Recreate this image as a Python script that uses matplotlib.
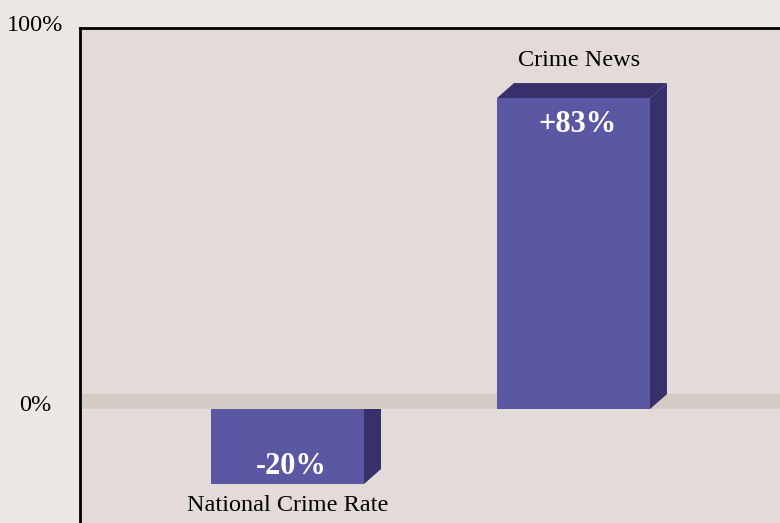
import matplotlib.pyplot as plt
from matplotlib.patches import Polygon, Rectangle
from matplotlib.transforms import blended_transform_factory

# Data
categories = ["National Crime Rate", "Crime News"]
changes = [-20, 83]
value_labels = ["-20%", "+83%"]
tick_values = [0, 100]
tick_labels = ["0%", "100%"]

# Style
fig_bg = "#ece8e5"
plot_bg = "#e3dbd8"
floor_col = "#d4cbc5"
front_col = "#5a57a3"
side_col = "#38306b"
bar_w = 0.535
dx, dy = 0.0594, 4.0   # 3D depth offsets in data units

plt.rcParams["font.family"] = ["Liberation Serif", "DejaVu Serif"]

fig = plt.figure(figsize=(7.8, 5.23), dpi=100, facecolor=fig_bg)
ax = fig.add_axes([80 / 780, 0, 700 / 780, 495 / 523])
ax.set_facecolor(plot_bg)
ax.set_xlim(-0.7255, 1.722)
ax.set_ylim(-30.4, 101.7)
for s in ["right", "bottom"]:
    ax.spines[s].set_visible(False)
for s in ["left", "top"]:
    ax.spines[s].set_linewidth(2.0)
    ax.spines[s].set_color("black")
ax.set_xticks([])
ax.set_yticks([])

# bars
for i, (cat, v, lab) in enumerate(zip(categories, changes, value_labels)):
    x0 = i - bar_w / 2
    x1 = i + bar_w / 2
    # side face
    ax.add_patch(Polygon([(x1, 0), (x1 + dx, dy), (x1 + dx, v + dy), (x1, v)],
                         closed=True, facecolor=side_col, edgecolor="none", zorder=2))
    if v > 0:
        # top face
        ax.add_patch(Polygon([(x0, v), (x0 + dx, v + dy), (x1 + dx, v + dy), (x1, v)],
                             closed=True, facecolor=side_col, edgecolor="none", zorder=2))
    # front face
    ax.add_patch(Rectangle((x0, min(0, v)), bar_w, abs(v), facecolor=front_col,
                           edgecolor="none", zorder=3))
    if v > 0:
        ax.text(i + 0.015, v - 7.0, lab, ha="center", va="center", color="white",
                fontsize=22, fontweight="bold", zorder=5)
        ax.text(i + 0.02, v + dy + 6.0, cat, ha="center", va="center", fontsize=17.5, zorder=5)
    else:
        ax.text(i + 0.015, v + 4.7, lab, ha="center", va="center", color="white",
                fontsize=22, fontweight="bold", zorder=5)
        ax.text(i, v - 5.8, cat, ha="center", va="center", fontsize=17.5, zorder=5)

# floor band at zero (drawn above the negative bar)
ax.add_patch(Rectangle((-0.7255, 0), 1.722 + 0.7255, dy, facecolor=floor_col,
                       edgecolor="none", zorder=1))
# cover the negative bar's side where the floor is
neg_i = changes.index(min(changes))
ax.add_patch(Rectangle((neg_i + bar_w / 2, 0), dx * 1.05, dy, facecolor=floor_col,
                       edgecolor="none", zorder=2.5))

# y labels
trans = blended_transform_factory(ax.transAxes, ax.transData)
for tv, tl in zip(tick_values, tick_labels):
    ax.text(-0.064, tv + 1 + 0.013 * tv, tl, transform=trans, ha="center", va="center",
            fontsize=17.5, clip_on=False)

fig.savefig("out.png", dpi=100, facecolor=fig_bg)
